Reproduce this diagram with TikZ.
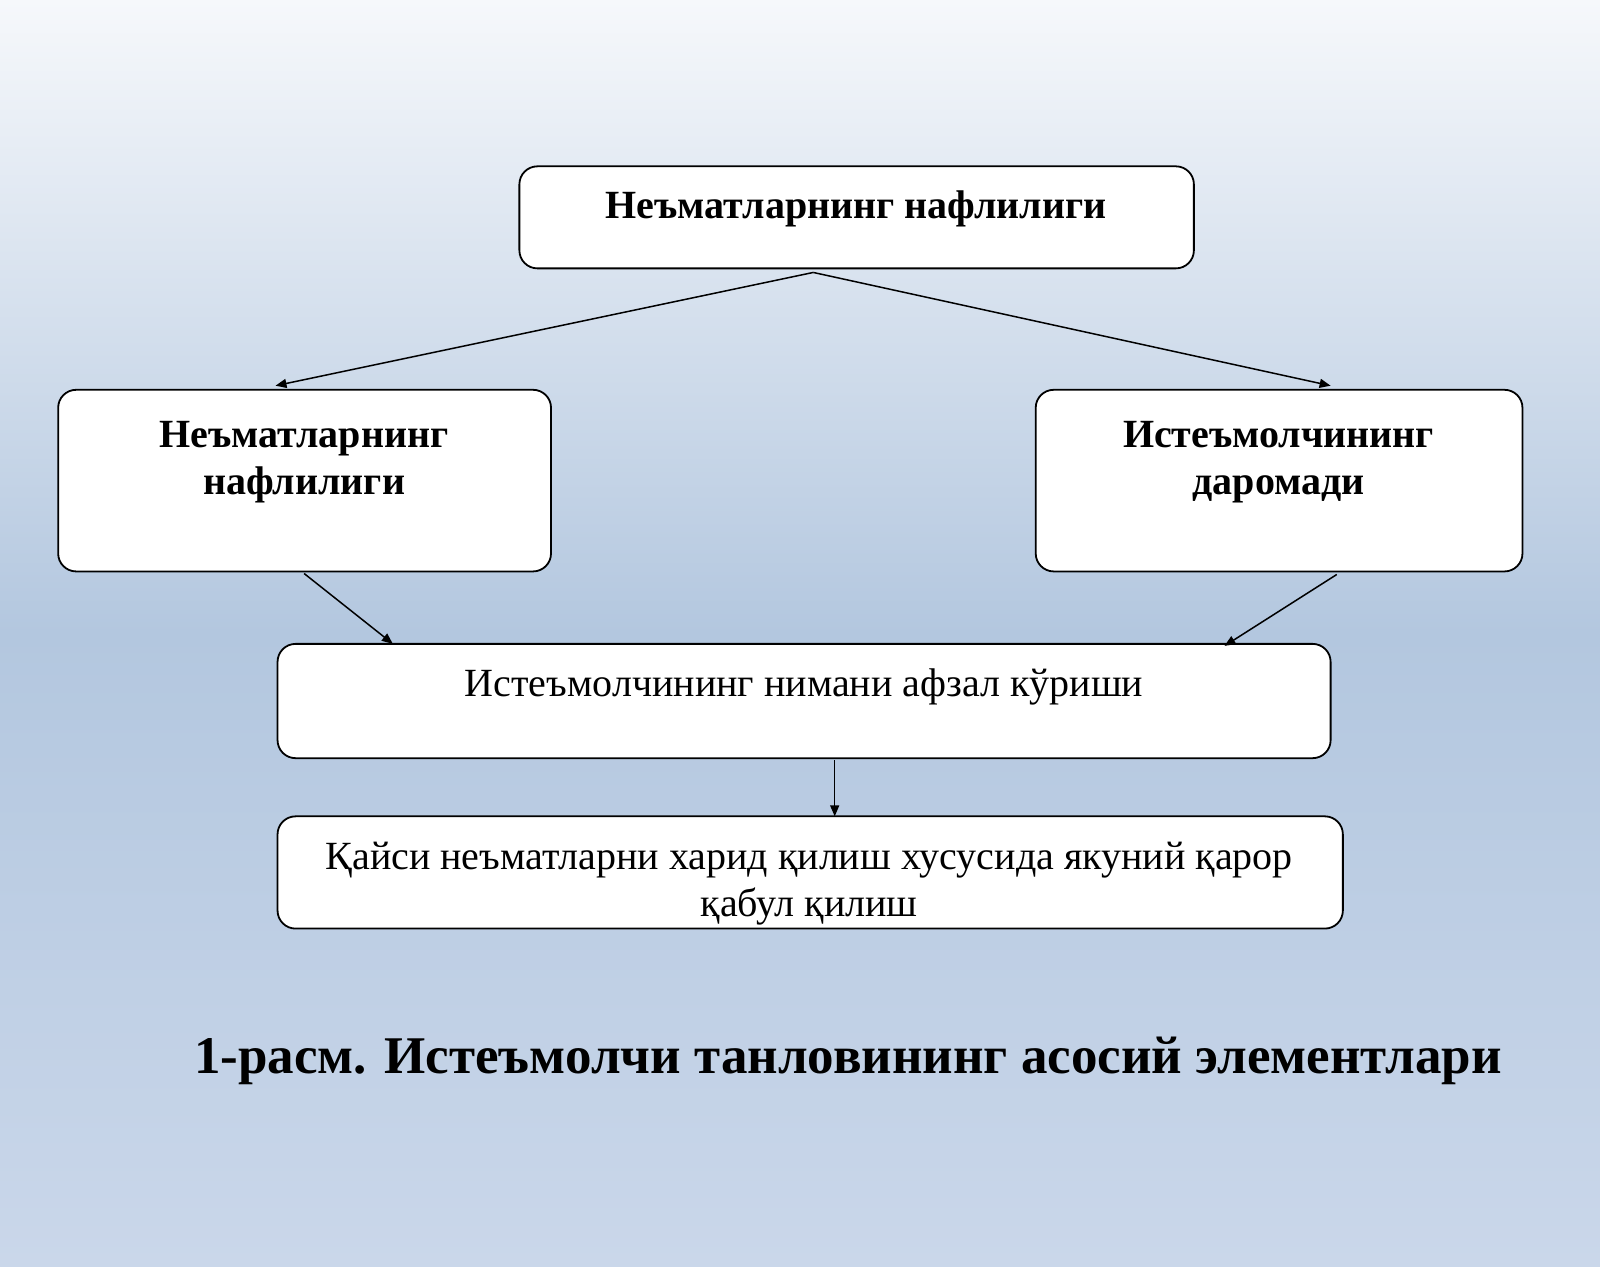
\documentclass[tikz,border=0pt]{standalone}
\usepackage{fontspec}
\setmainfont{Liberation Serif}
\usetikzlibrary{arrows.meta, positioning}
\definecolor{bgtop}{HTML}{F6F8FB}
\definecolor{bgmid}{HTML}{B3C7DF}
\definecolor{bgbot}{HTML}{CAD7EA}
\tikzset{
  box/.style={draw, line width=1.8pt, rounded corners=18pt, fill=white},
  lbl/.style={align=center, font=\fontsize{40}{48}\selectfont},
  conn/.style={-{Triangle[length=11pt,width=9pt]}, line width=1.5pt}
}
\begin{document}
\begin{tikzpicture}[x=1.0204pt, y=-1.0204pt]
      % background
      \shade[top color=bgtop, bottom color=bgbot, middle color=bgmid]
        (0,0) rectangle (1568,1241);
      \useasboundingbox (0,0) rectangle (1568,1241);

      % boxes
      \draw[box] (509,163) rectangle (1170,263);
      \draw[box] (57,382) rectangle (540,560);
      \draw[box] (1015,382) rectangle (1492,560);
      \draw[box] (272,631) rectangle (1304,743);
      \draw[box] (272,800) rectangle (1316,910);

      % texts
      \node[lbl, font=\fontsize{40}{48}\selectfont\bfseries] (top) at (839,205) {Неъматларнинг нафлилиги};
      \node[lbl, font=\fontsize{40}{47}\selectfont\bfseries] (left) at (298,453) {Неъматларнинг\\нафлилиги};
      \node[lbl, font=\fontsize{40}{47}\selectfont\bfseries] (right) at (1253,453) {Истеъмолчининг\\даромади};
      \node[lbl] (pref) at (788,673) {Истеъмолчининг нимани афзал кўриши};
      \node[lbl, font=\fontsize{40}{47}\selectfont] (dec) at (793,866) {Қайси неъматларни харид қилиш хусусида якуний қарор\\қабул қилиш};
      \node[font=\fontsize{53}{58}\selectfont\bfseries] (cap) at (831,1040) {1-расм. Истеъмолчи танловининг асосий элементлари};

      % connectors
      \coordinate (topS) at (797,267);
      \coordinate (leftN) at (270,378);
      \coordinate (rightN) at (1304,378);
      \coordinate (leftS) at (298,562);
      \coordinate (rightS) at (1310,563);
      \coordinate (prefL) at (385,631);
      \coordinate (prefR) at (1200,633);
      \coordinate (prefS) at (818,745);
      \coordinate (decN) at (818,800);
      \draw[conn] (topS) -- (leftN);
      \draw[conn] (topS) -- (rightN);
      \draw[conn] (leftS) -- (prefL);
      \draw[conn] (rightS) -- (prefR);
      \draw[conn] (prefS) -- (decN);
\end{tikzpicture}
\end{document}
